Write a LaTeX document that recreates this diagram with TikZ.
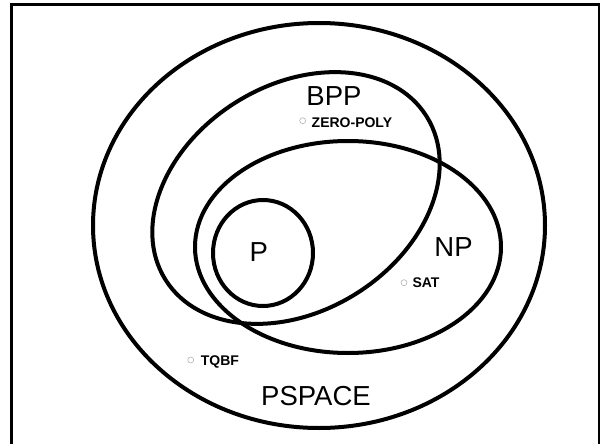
\documentclass[tikz,border=0pt]{standalone}
\usepackage{fontspec}
\setmainfont{Liberation Sans}
\tikzset{
  setline/.style={line width=4pt, black},
  frameline/.style={line width=2.5pt, black},
  biglabel/.style={inner sep=0pt, anchor=base, font=\fontsize{27.5}{30}\selectfont},
  smalllabel/.style={inner sep=0pt, anchor=base west, font=\fontsize{14}{16}\selectfont\bfseries},
  dotmark/.style={circle, draw=gray!60, line width=0.6pt, minimum size=6pt, inner sep=0pt},
}
\begin{document}
\begin{tikzpicture}[x=1pt, y=-1pt]
\useasboundingbox (0,0) rectangle (600,444);
% frame (open at the bottom)
\draw[frameline] (11.3,450) -- (11.3,4.5) -- (599.5,4.5) -- (599.5,450);
% PSPACE
\draw[setline] (319,225.5) ellipse [x radius=226pt, y radius=202.5pt];
% BPP
\draw[setline, rotate around={32:(296,198)}] (296,198) ellipse [x radius=154pt, y radius=113pt];
% NP
\draw[setline] (348,247) ellipse [x radius=153pt, y radius=106pt];
% P
\draw[setline] (263,253) ellipse [x radius=50pt, y radius=53pt];
% labels
\node[biglabel] (bpp) at (334,106) {BPP};
\node[biglabel] (np) at (453.5,256) {NP};
\node[biglabel] (p) at (258.7,261.7) {P};
\node[biglabel] (pspace) at (316,405) {PSPACE};
% problems
\node[dotmark] (zpdot) at (302.7,120.7) {};
\node[smalllabel] (zp) at (311.5,127.5) {ZERO-POLY};
\node[dotmark] (satdot) at (404,282.7) {};
\node[smalllabel] (sat) at (412.3,287.7) {SAT};
\node[dotmark] (tqbfdot) at (190.7,360) {};
\node[smalllabel] (tqbf) at (200.7,365) {TQBF};
\end{tikzpicture}
\end{document}
